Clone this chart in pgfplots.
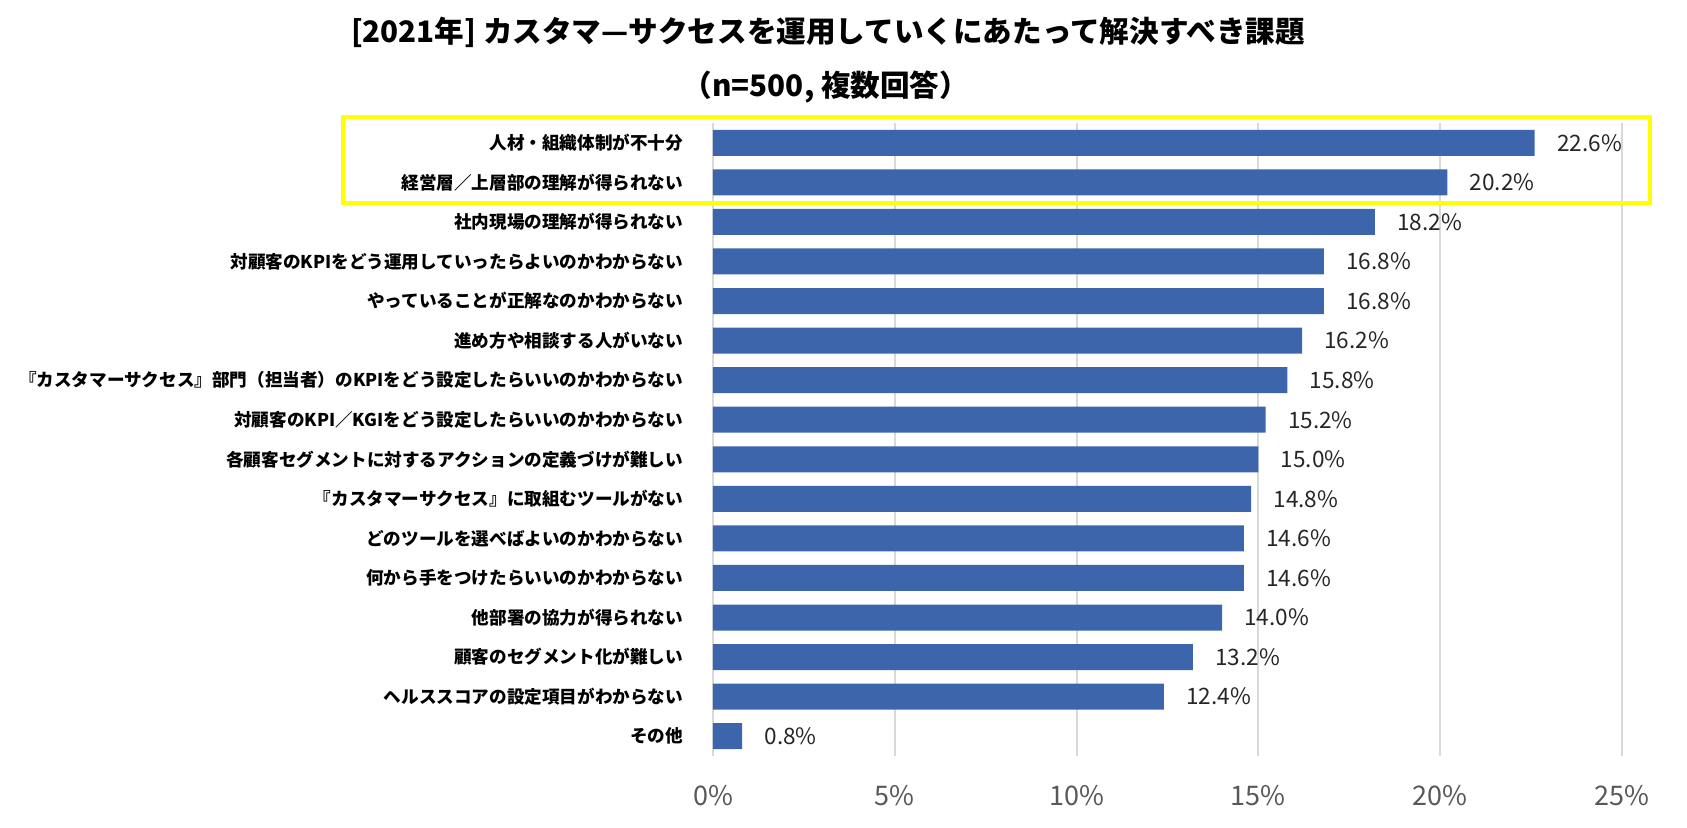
\documentclass[border=0pt]{standalone}
\usepackage{fontspec}
\setmainfont{Noto Sans CJK JP}
\usepackage{pgfplots}
\pgfplotsset{compat=1.18}
\definecolor{barblue}{RGB}{61,101,172}
\definecolor{gridgray}{RGB}{217,217,217}
\definecolor{tickgray}{RGB}{89,89,89}
\definecolor{hlyellow}{RGB}{255,255,0}
\begin{document}
\begin{tikzpicture}
\path[use as bounding box] (0,0) rectangle (843.5pt,414pt);
\node[font=\fontsize{14.8pt}{17pt}\selectfont\bfseries] at (414pt,398pt) {[2021年] カスタマ—サクセスを運用していくにあたって解決すべき課題};
\node[font=\fontsize{14.8pt}{17pt}\selectfont\bfseries] at (413pt,370.5pt) {（n=500, 複数回答）};
\begin{axis}[
  at={(356.5pt,36pt)}, anchor=south west,
  width=454.5pt, height=316.5pt, scale only axis,
  xbar, bar width=13pt,
  xmin=0, xmax=25, ymin=-0.5, ymax=15.5, y dir=reverse,
  /pgf/number format/assume math mode=true,
  axis line style={draw=none}, tick style={draw=none},
  xmajorgrids, grid style={gridgray, line width=1pt},
  xtick={0,5,10,15,20,25},
  xticklabel={\pgfmathprintnumber{\tick}\%},
  xticklabel style={font=\fontsize{13.5pt}{15pt}\selectfont, text=tickgray, anchor=center, yshift=-20pt},
  ytick={0,...,15},
  yticklabels={人材・組織体制が不十分,経営層／上層部の理解が得られない,社内現場の理解が得られない,対顧客のKPIをどう運用していったらよいのかわからない,やっていることが正解なのかわからない,進め方や相談する人がいない,『カスタマーサクセス』部門（担当者）のKPIをどう設定したらいいのかわからない,対顧客のKPI／KGIをどう設定したらいいのかわからない,各顧客セグメントに対するアクションの定義づけが難しい,『カスタマーサクセス』に取組むツールがない,どのツールを選べばよいのかわからない,何から手をつけたらいいのかわからない,他部署の協力が得られない,顧客のセグメント化が難しい,ヘルススコアの設定項目がわからない,その他},
  yticklabel style={font=\fontsize{8.8pt}{11pt}\selectfont\bfseries, anchor=east, inner sep=0pt, xshift=-10.5pt},
  nodes near coords={\pgfmathprintnumber[fixed,fixed zerofill,precision=1]{\pgfplotspointmeta}\%},
  point meta=x,
  every node near coord/.append style={font=\fontsize{11.3pt}{13pt}\selectfont, text=black!85, anchor=west, inner sep=0pt, xshift=11pt},
  clip=false,
]
\addplot[fill=barblue, draw=none] coordinates {
(22.6,0) (20.2,1) (18.2,2) (16.8,3) (16.8,4) (16.2,5) (15.8,6) (15.2,7)
(15.0,8) (14.8,9) (14.6,10) (14.6,11) (14.0,12) (13.2,13) (12.4,14) (0.8,15)};
\end{axis}
\draw[hlyellow, line width=2pt] (171.5pt,312.5pt) rectangle (825pt,355.5pt);
\end{tikzpicture}
\end{document}
